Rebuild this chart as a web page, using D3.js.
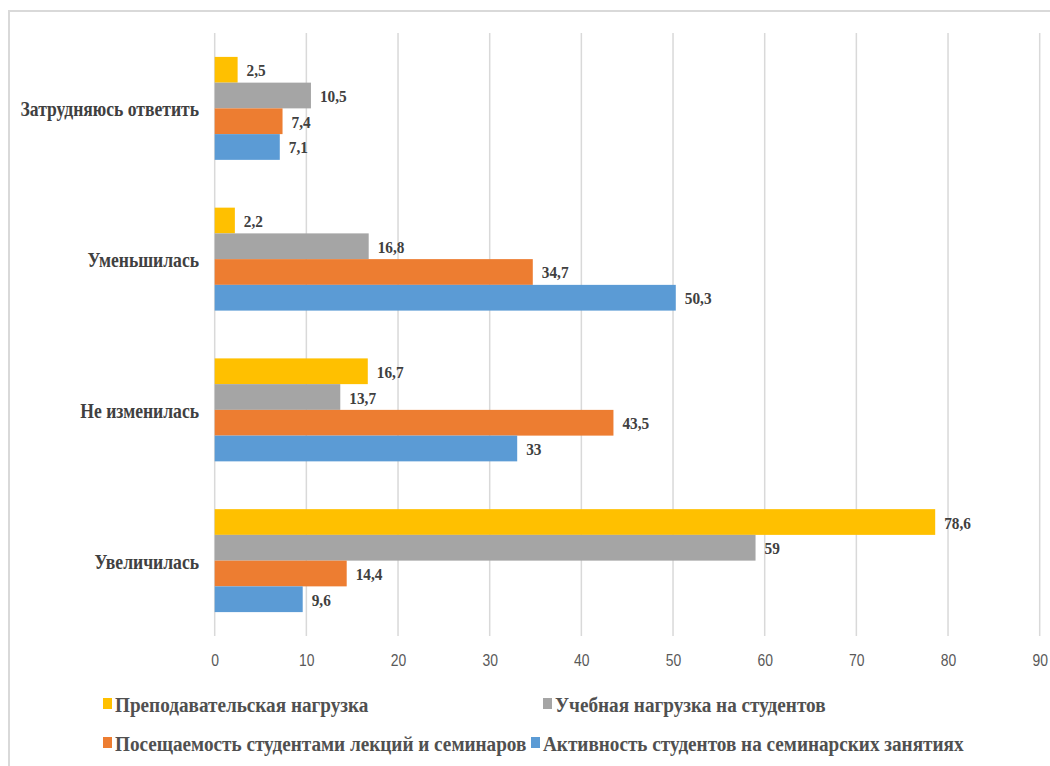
<!DOCTYPE html>
<html><head><meta charset="utf-8">
<script src="https://cdn.jsdelivr.net/npm/d3@7"></script>
<style>body{margin:0;background:#fff}svg{display:block}text{white-space:pre}</style>
</head><body><svg id="c" width="1050" height="766"></svg>
<script>
const categories = ["Затрудняюсь ответить","Уменьшилась","Не изменилась","Увеличилась"];
const seriesNames = ["Преподавательская нагрузка","Учебная нагрузка на студентов","Посещаемость студентами лекций и семинаров","Активность студентов на семинарских занятиях"];
const teacherLoad = [2.5, 2.2, 16.7, 78.6];
const studentLoad = [10.5, 16.8, 13.7, 59];
const attendance = [7.4, 34.7, 43.5, 14.4];
const activity = [7.1, 50.3, 33, 9.6];
const xTicks = [0,10,20,30,40,50,60,70,80,90];
const colors = ["#FFC000","#A5A5A5","#ED7D31","#5B9BD5"];
const seriesValues = [teacherLoad, studentLoad, attendance, activity];

(function(){
const svg = d3.select("#c");
svg.append("path").attr("d","M9,1000 V11 H1100").attr("fill","none").attr("stroke","#d9d9d9").attr("stroke-width",2);

const pL = 214.7, pR = 1039.7, pT = 33, pB = 636;
const x = d3.scaleLinear().domain([0,90]).range([pL,pR]);
const y = d3.scaleBand().domain(categories).range([pT,pB]).paddingInner(0.317).paddingOuter(0.1585);
const yi = d3.scaleBand().domain(d3.range(4)).range([0,y.bandwidth()]);

svg.append("g").selectAll("line").data(xTicks).join("line")
  .attr("x1",d=>x(d)).attr("x2",d=>x(d)).attr("y1",pT).attr("y2",pB)
  .attr("stroke","#d9d9d9").attr("stroke-width",1.5);

const ax = svg.append("g").attr("transform",`translate(0,${pB})`)
  .call(d3.axisBottom(x).tickValues(xTicks).tickSize(0));
ax.select(".domain").remove();
ax.selectAll("text").attr("y",30.5).attr("dy",null).attr("transform","scale(0.82,1)")
  .attr("font-family","'Liberation Sans', Arial, sans-serif").attr("font-size",17).attr("fill","#595959");

const serif = "'Liberation Serif','Times New Roman',serif";

seriesValues.forEach((vals,si)=>{
  const g = svg.append("g");
  g.selectAll("rect").data(vals).join("rect")
    .attr("x",x(0)).attr("y",(d,i)=>y(categories[i])+yi(si))
    .attr("width",d=>x(d)-x(0)).attr("height",yi.bandwidth())
    .attr("fill",colors[si]);
  g.selectAll("text").data(vals).join("text")
    .attr("transform",(d,i)=>`translate(${x(d)+9},${y(categories[i])+yi(si)+yi.bandwidth()/2+6.5}) scale(0.9,1)`)
    .attr("font-family",serif).attr("font-weight","bold").attr("font-size",17).attr("fill","#404040")
    .text(d=>String(d).replace(".",","));
});

svg.append("g").selectAll("text").data(categories).join("text")
  .attr("transform",d=>`translate(199,${y(d)+y.bandwidth()/2+8}) scale(0.8,1)`)
  .attr("text-anchor","end")
  .attr("font-family",serif).attr("font-weight","bold").attr("font-size",22).attr("fill","#404040")
  .text(d=>d);

const legPos = [[103,711.5],[543,711.5],[103,750.5],[531,750.5]];
seriesNames.forEach((n,i)=>{
  const [lx,ly] = legPos[i];
  svg.append("rect").attr("x",lx).attr("y",ly-13.5).attr("width",9).attr("height",11).attr("fill",colors[i]);
  svg.append("text").attr("transform",`translate(${lx+12},${ly}) scale(0.96,1)`)
    .attr("font-family",serif).attr("font-weight","bold").attr("font-size",20).attr("fill","#505050").text(n);
});
})();
</script></body></html>
